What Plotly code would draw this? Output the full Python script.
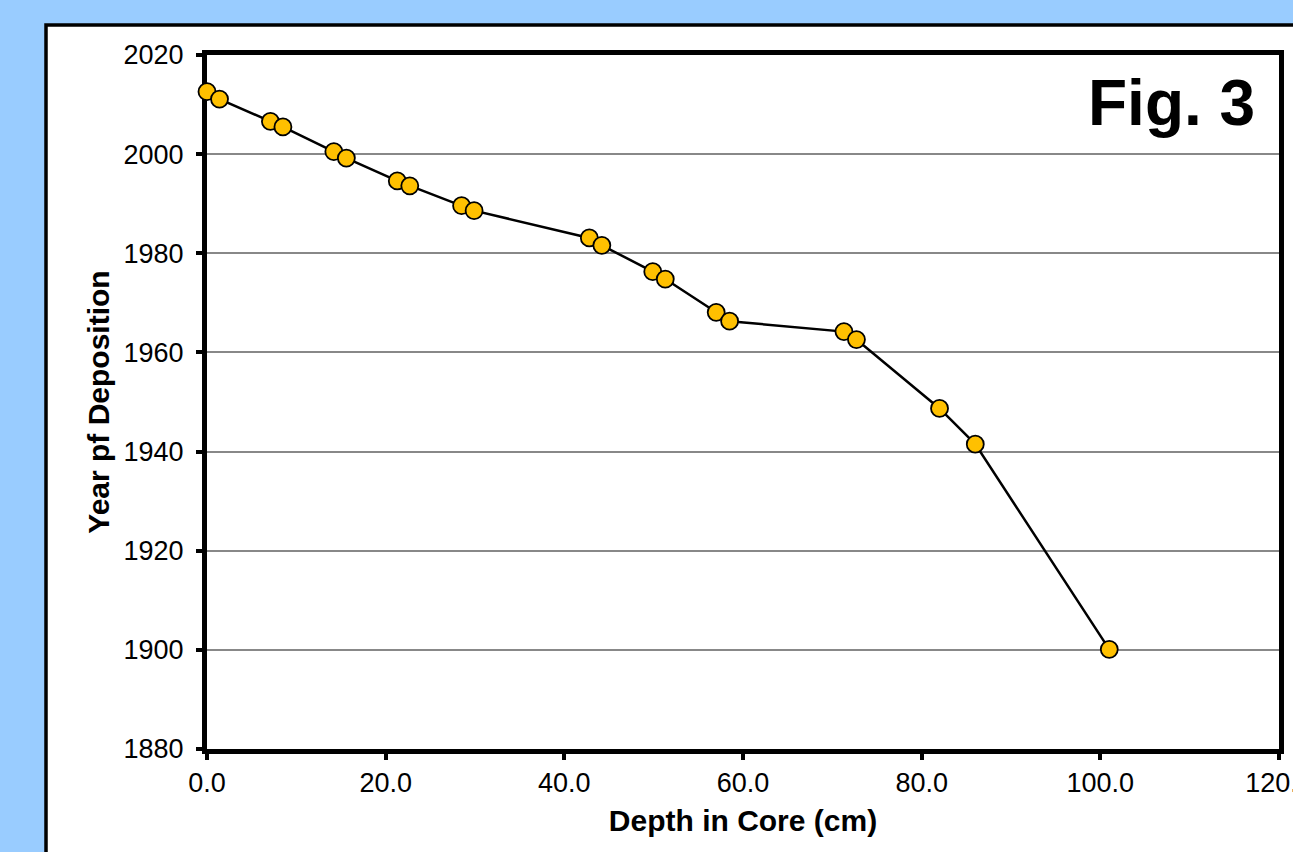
import plotly.graph_objects as go

# Data
depth_cm = [0.0, 1.4, 7.1, 8.5, 14.2, 15.6, 21.3, 22.7, 28.5, 29.9,
            42.8, 44.2, 49.9, 51.3, 57.0, 58.5, 71.3, 72.7, 82.0, 86.0, 101.0]
year_dep = [2012.6, 2011.1, 2006.6, 2005.5, 2000.5, 1999.2, 1994.6, 1993.6, 1989.6, 1988.6,
            1983.1, 1981.6, 1976.3, 1974.8, 1968.1, 1966.3, 1964.2, 1962.6, 1948.7, 1941.5, 1900.1]

x_ticks = [0, 20, 40, 60, 80, 100, 120]
y_ticks = [1880, 1900, 1920, 1940, 1960, 1980, 2000, 2020]

W, H = 1293, 852
L, R, T, B = 207, 1279, 55, 749
pw, ph = R - L, B - T

def px_x(p):
    return (p - L) / pw

def px_y(p):
    return (B - p) / ph

FONT = "Liberation Sans, Arial, sans-serif"

fig = go.Figure()
fig.add_trace(go.Scatter(
    x=depth_cm, y=year_dep, mode="lines+markers",
    line=dict(color="black", width=2.5),
    marker=dict(size=17, color="#FFC000", line=dict(color="black", width=1.8)),
    cliponaxis=False, showlegend=False,
))

fig.add_shape(type="rect", xref="paper", yref="paper",
              x0=px_x(46), x1=px_x(1400), y0=px_y(25), y1=px_y(950),
              line=dict(color="black", width=3.5), fillcolor="white", layer="below")

fig.add_annotation(text="<b>Fig. 3</b>", xref="paper", yref="paper",
                   x=px_x(1257), y=px_y(103), xanchor="right", yanchor="middle",
                   showarrow=False, font=dict(family=FONT, size=64, color="black"))

fig.update_layout(
    width=W, height=H,
    margin=dict(l=L, r=W - R, t=T, b=H - B, autoexpand=False),
    paper_bgcolor="#99CCFF", plot_bgcolor="white",
    font=dict(family=FONT, color="black"),
)
fig.update_xaxes(
    range=[0, 120], tickvals=x_ticks, tickformat=".1f",
    showgrid=False, zeroline=False,
    showline=True, linecolor="black", linewidth=5, mirror=True,
    ticks="outside", ticklen=6, tickwidth=4, tickcolor="black",
    tickfont=dict(size=27, family=FONT, color="black"), ticklabelstandoff=0,
    ticklabeloverflow="allow",
    title=dict(text="<b>Depth in Core (cm)</b>", font=dict(size=30, family=FONT, color="black"), standoff=14),
    layer="below traces",
)
fig.update_yaxes(
    range=[1880, 2020], tickvals=y_ticks,
    showgrid=True, gridcolor="#888888", gridwidth=2, zeroline=False,
    showline=True, linecolor="black", linewidth=5, mirror=True,
    ticks="outside", ticklen=6, tickwidth=4, tickcolor="black",
    tickfont=dict(size=27, family=FONT, color="black"), ticklabelstandoff=7,
    ticklabeloverflow="allow",
    title=dict(text="<b>Year pf Deposition</b>", font=dict(size=30, family=FONT, color="black"), standoff=7),
    layer="below traces",
)

fig.write_html("out.html", config={"displayModeBar": False},
               post_script="document.body.style.margin='0';document.body.style.overflow='hidden';")
